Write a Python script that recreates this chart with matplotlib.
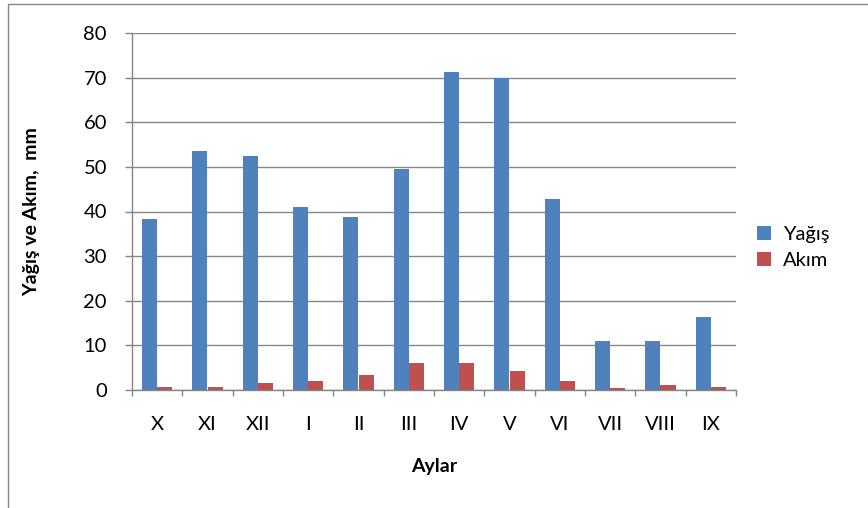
import numpy as np
import matplotlib.pyplot as plt
from matplotlib.patches import Rectangle

plt.rcParams['font.family'] = ['Lato', 'DejaVu Sans']

months = ['X', 'XI', 'XII', 'I', 'II', 'III', 'IV', 'V', 'VI', 'VII', 'VIII', 'IX']
yagis = [38.3, 53.5, 52.5, 41.0, 38.7, 49.5, 71.3, 70.0, 42.7, 11.0, 11.0, 16.3]
akim = [0.6, 0.6, 1.5, 2.0, 3.4, 6.0, 6.0, 4.2, 2.0, 0.5, 1.1, 0.6]

W, H = 868, 508
fig = plt.figure(figsize=(W / 100, H / 100), dpi=100)
ax = fig.add_axes([132 / W, 1 - 390 / H, (736 - 132) / W, (390 - 33) / H])

# outer chart border
fig.patches.append(Rectangle((8 / W, -0.1), 1.1, 1 - 4 / H + 0.1, transform=fig.transFigure,
                             fill=False, edgecolor='#888888', linewidth=1.0))

x = np.arange(len(months))
bw = 0.3
ax.bar(x - bw / 2, yagis, bw, color='#4F81BD', label='Yağış', zorder=3)
ax.bar(x + bw / 2, akim, bw, color='#C0504D', label='Akım', zorder=3)

ax.set_xlim(-0.5, len(months) - 0.5)
ax.set_ylim(0, 80)
ax.set_yticks(range(0, 81, 10))
ax.yaxis.grid(True, color='#868686', linewidth=1.0, zorder=0)

ax.set_xticks(x)
ax.set_xticklabels(months)
ax.set_xticks(np.arange(-0.5, len(months)), minor=True)
ax.tick_params(axis='x', which='major', length=0, pad=19, labelsize=14.5)
ax.tick_params(axis='x', which='minor', length=4.5, direction='out', color='#868686', width=1.0)
ax.tick_params(axis='y', length=5, direction='out', color='#868686', width=1.0, labelsize=14.5, pad=13)

for s in ['top', 'right']:
    ax.spines[s].set_visible(False)
for s in ['left', 'bottom']:
    ax.spines[s].set_color('#868686')
    ax.spines[s].set_linewidth(1.0)

ax.set_ylabel('Yağış ve Akım,  mm', fontsize=14, fontweight='bold')
ax.yaxis.set_label_coords(-0.152, 0.5)
ax.set_xlabel('Aylar', fontsize=14, fontweight='bold')
ax.xaxis.set_label_coords(0.5, -0.19)

ax.legend(loc='center left', bbox_to_anchor=(1.005, 0.40), frameon=False, fontsize=14.5,
          handlelength=0.7, handleheight=0.7, labelspacing=0.45, handletextpad=0.6)

fig.savefig('out.png', dpi=100)
